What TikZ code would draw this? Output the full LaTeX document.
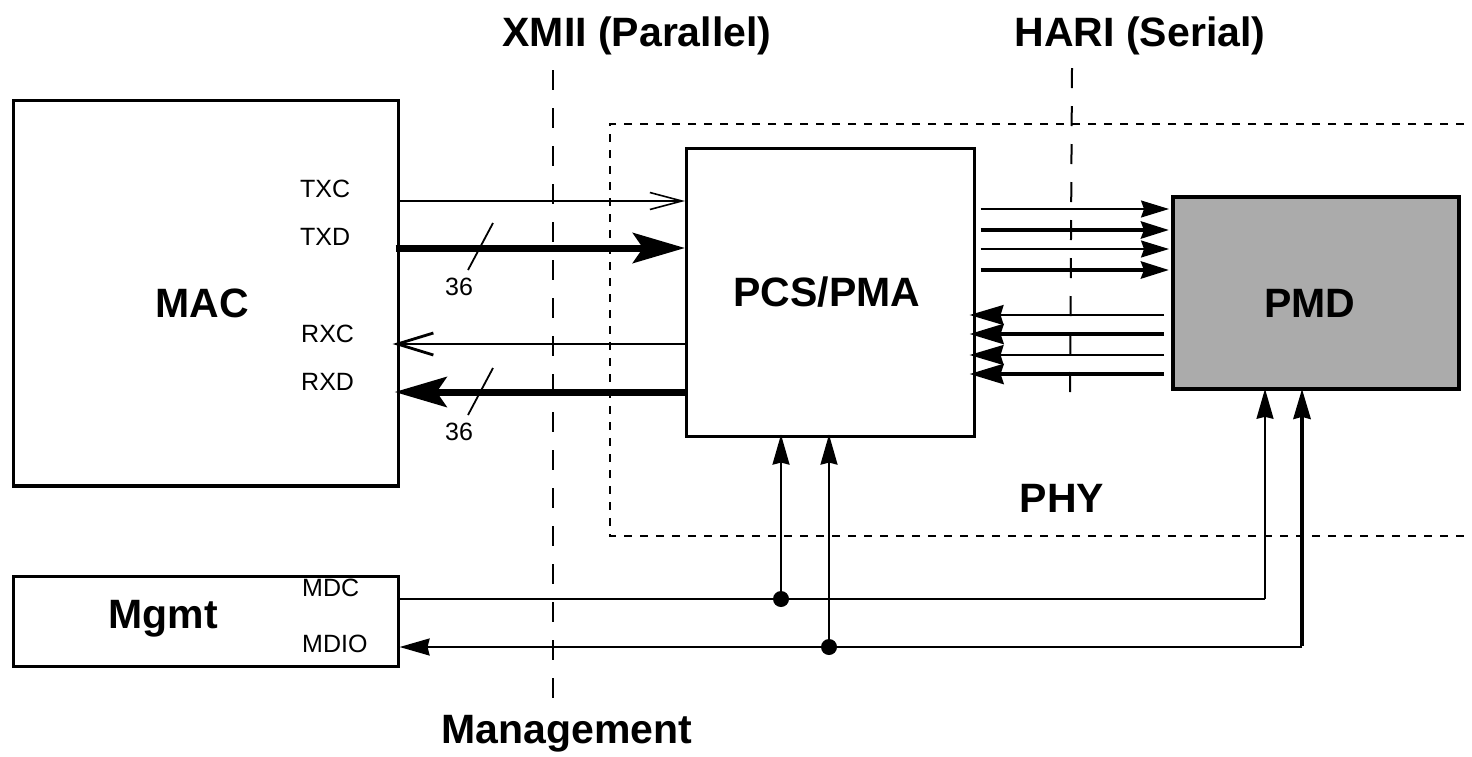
\documentclass[tikz,border=0pt]{standalone}
\usepackage{fontspec}
\setmainfont{Liberation Sans}
\usetikzlibrary{arrows.meta,calc}
\definecolor{pmdgray}{HTML}{ABABAB}
\begin{document}
\begin{tikzpicture}[x=1pt,y=-1pt,
  box/.style={draw, line width=2.6pt, anchor=north west, inner sep=0pt},
  big/.style={font=\fontsize{41}{45}\selectfont\bfseries, anchor=base, inner sep=0pt},
  small/.style={font=\fontsize{25}{28}\selectfont, anchor=west, inner sep=0pt},
  thinln/.style={line width=1.8pt},
  medln/.style={line width=4.2pt},
  thickln/.style={line width=7pt},
  divider/.style={line width=2pt, dash pattern=on 20pt off 18pt},
  phyline/.style={line width=2pt, dash pattern=on 8pt off 8pt},
  openarr/.style={-{Straight Barb[length=32pt,width=17pt,line width=1.6pt]}},
  openarrB/.style={-{Straight Barb[length=36pt,width=22pt,line width=2.8pt]}},
  bigarr/.style={-{Stealth[length=52pt,width=30pt,inset=10pt]}},
  triarr/.style={-{Stealth[length=28pt,width=17pt,inset=3pt]}},
  triarrB/.style={-{Stealth[length=34pt,width=20pt,inset=3pt]}},
  uparr/.style={-{Stealth[length=30pt,width=17pt,inset=2pt]}},
  dot/.style={circle, fill, inner sep=0pt, minimum size=16pt}
]
\useasboundingbox (0,0) rectangle (1472,756);

% PHY dashed region
\draw[phyline] (1480,124) -- (610,124) -- (610,536) -- (1480,536);

% dividers
\draw[divider] (553,70) -- (553,700);
\draw[divider] (1072,68) -- (1070,405);

% boxes
\node[box, minimum width=385pt, minimum height=385pt] (mac) at (12,99) {};
\draw[line width=3.6pt] (mac.south west) -- (mac.south east);
\node[box, minimum width=288pt, minimum height=288pt] (pcs) at (685,147) {};
\node[box, fill=pmdgray, line width=3.8pt, minimum width=286pt, minimum height=192pt] (pmd) at (1171,195) {};
\node[box, minimum width=385pt, minimum height=90pt] (mgmt) at (12,575) {};

% big labels
\node[big] (maclbl) at (202,317) {MAC};
\node[big] (pcslbl) at (827,306) {PCS/PMA};
\node[big] (pmdlbl) at (1310,317) {PMD};
\node[big] (mgmtlbl) at (163,628) {Mgmt};
\node[big] (phylbl) at (1062,512) {PHY};
\node[big] (mgtlbl) at (567,743) {Management};
\node[big] (xmiilbl) at (637,46) {XMII (Parallel)};
\node[big] (harilbl) at (1140,46) {HARI (Serial)};

% small labels
\node[small] (txc) at (300,189) {TXC};
\node[small] (txd) at (300,237) {TXD};
\node[small] (rxc) at (301,334) {RXC};
\node[small] (rxd) at (301,382) {RXD};
\node[small] (mdc) at (302,588) {MDC};
\node[small] (mdio) at (302,644) {MDIO};

% MAC <-> PCS
\draw[thinln, openarr] (mac.east |- 0,201) -- (pcs.west |- 0,201);
\draw[thickln, bigarr, shorten <=-4pt] (mac.east |- 0,248) -- (pcs.west |- 0,248);
\draw[thinln, openarrB, shorten >=-7pt] (pcs.west |- 0,344) -- (mac.east |- 0,344);
\draw[thickln, bigarr, shorten >=-5pt] (pcs.west |- 0,392) -- (mac.east |- 0,392);

% bus width marks
\node[small, anchor=center] (w1) at (459,287) {36};
\node[small, anchor=center] (w2) at (459,432) {36};
\draw[thinln] (493,223) -- (468,270);
\draw[thinln] (493,368) -- (468,415);

% PCS -> PMD
\draw[thinln, triarr, shorten <=5pt, shorten >=2pt] (pcs.east |- 0,209) -- (pmd.west |- 0,209);
\draw[medln, triarr, shorten <=5pt, shorten >=2pt] (pcs.east |- 0,230) -- (pmd.west |- 0,230);
\draw[thinln, triarr, shorten <=5pt, shorten >=2pt] (pcs.east |- 0,249) -- (pmd.west |- 0,249);
\draw[medln, triarr, shorten <=5pt, shorten >=2pt] (pcs.east |- 0,270) -- (pmd.west |- 0,270);

% PMD -> PCS
\draw[thinln, triarrB, shorten <=7pt, shorten >=-6pt] (pmd.west |- 0,315) -- (pcs.east |- 0,315);
\draw[medln, triarrB, shorten <=7pt, shorten >=-6pt] (pmd.west |- 0,334) -- (pcs.east |- 0,334);
\draw[thinln, triarrB, shorten <=7pt, shorten >=-6pt] (pmd.west |- 0,355) -- (pcs.east |- 0,355);
\draw[medln, triarrB, shorten <=7pt, shorten >=-6pt] (pmd.west |- 0,374) -- (pcs.east |- 0,374);

% management
\coordinate (mdcEnd) at (1265,599);
\coordinate (mdioEnd) at (1302,647);
\draw[thinln] (mgmt.east |- 0,599) -- (mdcEnd);
\draw[thinln, uparr, shorten >=-2pt] (mdcEnd) -- (mdcEnd |- pmd.south);
\draw[thinln, uparr] (mdioEnd) -- (mgmt.east |- 0,647);
\draw[medln, uparr, shorten >=-2pt] ([yshift=1pt]mdioEnd) -- (mdioEnd |- pmd.south);

\node[dot] (j1) at (781,599) {};
\node[dot] (j2) at (829,647) {};
\draw[thinln, uparr, shorten >=-3pt] (j1) -- (j1 |- pcs.south);
\draw[thinln, uparr, shorten >=-3pt] (j2) -- (j2 |- pcs.south);
\end{tikzpicture}
\end{document}
